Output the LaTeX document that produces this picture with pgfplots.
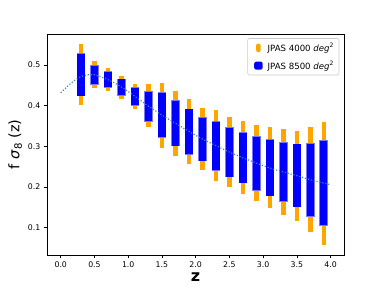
\documentclass[border=0pt]{standalone}
\usepackage{pgfplots}
\pgfplotsset{compat=1.18}
\usepackage{pgfplotstable}
\usepackage{fontspec}
\setmainfont{DejaVu Sans}
\definecolor{mplorange}{HTML}{FFA500}
\definecolor{mplblue}{HTML}{0000FF}
\definecolor{edgeblue}{RGB}{120,120,255}
\definecolor{curveblue}{RGB}{55,135,200}
\definecolor{legedge}{RGB}{204,204,204}

\pgfplotstableread{
z   lo4   hi4   lo8   hi8
0.3 0.402 0.551 0.425 0.527
0.5 0.444 0.509 0.454 0.498
0.7 0.437 0.492 0.445 0.483
0.9 0.417 0.473 0.426 0.465
1.1 0.392 0.453 0.401 0.444
1.3 0.347 0.453 0.363 0.435
1.5 0.297 0.457 0.322 0.431
1.7 0.277 0.436 0.302 0.411
1.9 0.257 0.416 0.282 0.391
2.1 0.241 0.394 0.265 0.371
2.3 0.214 0.390 0.241 0.361
2.5 0.201 0.373 0.226 0.345
2.7 0.183 0.363 0.211 0.334
2.9 0.165 0.353 0.193 0.323
3.1 0.148 0.347 0.179 0.316
3.3 0.132 0.342 0.165 0.309
3.5 0.116 0.339 0.152 0.305
3.7 0.089 0.347 0.129 0.307
3.9 0.058 0.361 0.106 0.313
}\bars

\pgfplotstableread{
z   f
0.0 0.432
0.1 0.448
0.2 0.462
0.3 0.472
0.4 0.476
0.5 0.476
0.6 0.471
0.7 0.464
0.8 0.456
0.9 0.446
1.0 0.435
1.1 0.423
1.2 0.411
1.3 0.399
1.5 0.377
1.7 0.357
1.9 0.337
2.1 0.318
2.3 0.302
2.5 0.286
2.7 0.272
2.9 0.259
3.1 0.247
3.3 0.237
3.5 0.228
3.7 0.218
3.9 0.210
4.0 0.206
}\curve

\begin{document}
\begin{tikzpicture}
\begin{axis}[
  scale only axis,
  width=297pt, height=221pt,
  xmin=-0.2, xmax=4.2,
  ymin=0.0335, ymax=0.5765,
  axis line style={black, line width=0.6pt},
  xtick={0,0.5,...,4.0},
  ytick={0.1,0.2,0.3,0.4,0.5},
  tick align=outside,
  tick pos=left,
  major tick length=3.5pt,
  tick style={black, line width=0.6pt},
  /pgf/number format/assume math mode=true,
  /pgf/number format/.cd, fixed, fixed zerofill, precision=1, /pgfplots/.cd,
  tick label style={font=\fontsize{7.8}{9}\selectfont},
  xlabel={\bfseries z},
  xlabel style={font=\fontsize{16}{19}\selectfont, yshift=2pt},
  ylabel={f \textit{σ}\textsubscript{8} (z)},
  ylabel style={font=\fontsize{14.5}{17}\selectfont, yshift=-1pt},
  legend style={at={(axis description cs:0.984,0.981)}, anchor=north east,
    draw=legedge, rounded corners=2pt, line width=0.6pt,
    font=\fontsize{8.6}{10}\selectfont, row sep=4pt,
    inner xsep=3pt, inner ysep=2.5pt},
  legend cell align=left,
]
\addplot[draw=none, mark=none,
  legend image code/.code={\path (0pt,0pt) -- (15pt,0pt); \fill[mplorange] (5.5pt,-4.3pt) rectangle (10pt,4.3pt);},
  error bars/.cd, y dir=minus, y explicit, error mark=none,
  error bar style={line width=4.4pt, draw=mplorange, solid}]
  table[x=z, y=hi4, y error expr=\thisrow{hi4}-\thisrow{lo4}] {\bars};
\addlegendentry{JPAS 4000 \textit{deg}\textsuperscript{2}}
\addplot[forget plot, draw=none, mark=none,
  error bars/.cd, y dir=minus, y explicit, error mark=none,
  error bar style={line width=8.6pt, draw=edgeblue, solid}]
  table[x=z, y expr=\thisrow{hi8}+0.002, y error expr=\thisrow{hi8}-\thisrow{lo8}+0.004] {\bars};
\addplot[draw=none, mark=none,
  legend image code/.code={\path (0pt,0pt) -- (15pt,0pt); \fill[mplblue] (3.6pt,-4pt) rectangle (12pt,4pt);},
  error bars/.cd, y dir=minus, y explicit, error mark=none,
  error bar style={line width=7.4pt, draw=mplblue, solid}]
  table[x=z, y=hi8, y error expr=\thisrow{hi8}-\thisrow{lo8}] {\bars};
\addlegendentry{JPAS 8500 \textit{deg}\textsuperscript{2}}
\addplot[forget plot, curveblue, line width=1.2pt, dash pattern=on 1.1pt off 1.9pt, mark=none]
  table[x=z, y=f] {\curve};
\coordinate (sw) at (rel axis cs:0,0);
\coordinate (ne) at (rel axis cs:1,1);
\end{axis}
\path ([xshift=-47.3pt,yshift=-32pt]sw) rectangle ([xshift=38pt,yshift=34pt]ne);
\end{tikzpicture}
\end{document}
